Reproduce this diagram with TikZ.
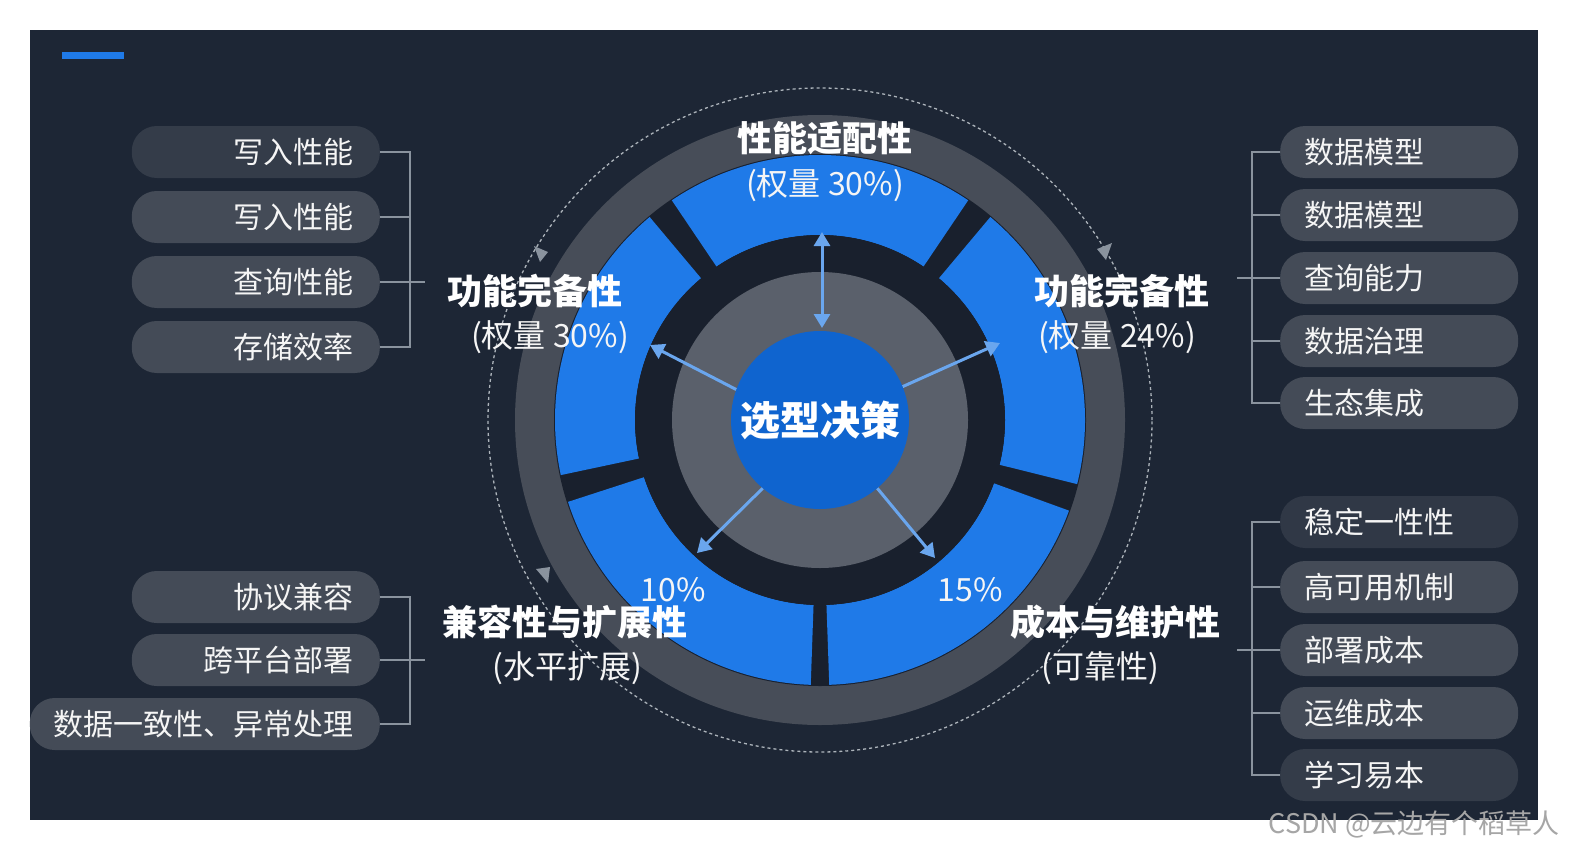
\documentclass[tikz,border=0pt]{standalone}
\usepackage{fontspec}
\setmainfont{Noto Sans CJK SC}
\usetikzlibrary{arrows.meta,calc}
\definecolor{bg}{HTML}{1D2635}
\definecolor{ringgray}{HTML}{474D58}
\definecolor{innergray}{HTML}{5A606B}
\definecolor{segblue}{HTML}{1F7AE8}
\definecolor{cblue}{HTML}{0F64CF}
\definecolor{arr}{HTML}{6AA6EE}
\definecolor{pill}{HTML}{444B57}
\definecolor{brk}{HTML}{8A939E}
\tikzset{
  pillL/.style={rounded corners=25pt,fill=pill,minimum height=52pt,text=white!92!gray,font=\fontsize{30}{31}\selectfont,anchor=east,text width=#1,align=right,inner sep=0pt},
  pillR/.style={rounded corners=25pt,fill=pill,minimum height=52pt,text=white!92!gray,font=\fontsize{30}{31}\selectfont,anchor=west,text width=238pt,align=left,inner xsep=0pt,inner ysep=0pt},
  brkline/.style={draw=brk,line width=1.6pt},
  ttl/.style={text=white,font=\bfseries\fontsize{35}{37}\selectfont,inner sep=0pt},
  sub/.style={text=white!92!gray,font=\fontsize{32}{34}\selectfont,inner sep=0pt},
  spoke/.style={draw=arr,line width=3pt,-{Triangle[length=14pt,width=16pt]}}
}
\newcommand{\seg}[2]{\fill[segblue] (820pt,-420pt) ++(#1:265pt) arc[start angle=#1,end angle=#2,radius=265pt] -- ($(820pt,-420pt)+(#2:185pt)$) arc[start angle=#2,end angle=#1,radius=185pt] -- cycle;}
\begin{document}
\begin{tikzpicture}[x=1pt,y=-1pt]
\useasboundingbox (0,0) rectangle (1574,854);
\fill[white] (0,0) rectangle (1574,854);
\fill[bg] (30,30) rectangle (1538,820);
\fill[segblue] (62,52) rectangle (124,59);
% rings
\coordinate (c) at (820,420);
\draw[brk!70,dashed,line width=1.3pt] (c) circle[radius=332pt];
\fill[ringgray] (c) circle[radius=305pt];
\fill[bg!85!black] (c) circle[radius=266pt];
\seg{56}{124}
\seg{-14}{50}
\seg{-88}{-20}
\seg{198}{268}
\seg{130}{192}
\fill[bg!85!black] (c) circle[radius=185pt];
\fill[innergray] (c) circle[radius=148pt];
\node[circle,fill=cblue,minimum size=178pt,inner sep=0pt,text=white,font=\bfseries\fontsize{40}{42}\selectfont] (core) at (c) {选型决策};
% dashed-circle arrowheads
\fill[brk] (540,262) -- ++(-6,-16) -- ++(14,6) -- cycle;
\fill[brk] (1106,260) -- ++(6,-17) -- ++(-15,6) -- cycle;
\fill[brk] (548,583) -- ++(-12,-14) -- ++(14,-2) -- cycle;
% spokes
\coordinate (tA) at (822,232);
\coordinate (lA) at (650,345);
\coordinate (rA) at (1000,343);
\coordinate (blA) at (697,553);
\coordinate (brA) at (935,558);
\draw[spoke,{Triangle[length=14pt,width=16pt]}-{Triangle[length=14pt,width=16pt]}] (822,328) -- (tA);
\draw[spoke] (core.160) -- (lA);
\draw[spoke] (core.22) -- (rA);
\draw[spoke] (core.-130) -- (blA);
\draw[spoke] (core.-50) -- (brA);
% titles
\node[ttl] (t1) at (825,138) {性能适配性};
\node[sub] at (825,185) {(权量 30\%)};
\node[ttl] (t2) at (535,291) {功能完备性};
\node[sub] at (550,337) {(权量 30\%)};
\node[ttl] (t3) at (1122,291) {功能完备性};
\node[sub] at (1117,337) {(权量 24\%)};
\node[sub] at (673,590) {10\%};
\node[sub] at (970,590) {15\%};
\node[ttl] (t4) at (565,622) {兼容性与扩展性};
\node[sub] at (567,668) {(水平扩展)};
\node[ttl] (t5) at (1115,622) {成本与维护性};
\node[sub] at (1100,668) {(可靠性)};
% left top pills
\node[pillL=248pt,fill=pill!60!bg] (a1) at (380,152) {写入性能\hspace*{26pt}};
\node[pillL=248pt] (a2) at (380,217) {写入性能\hspace*{26pt}};
\node[pillL=248pt] (a3) at (380,282) {查询性能\hspace*{26pt}};
\node[pillL=248pt] (a4) at (380,347) {存储效率\hspace*{26pt}};
\coordinate (ja) at (425,282);
\draw[brkline] (a1.east) -- (410,152) -- (410,347) -- (a4.east);
\draw[brkline] (a2.east) -- (410,217);
\draw[brkline] (a3.east) -- (ja);
% left bottom pills
\node[pillL=248pt] (b1) at (380,597) {协议兼容\hspace*{26pt}};
\node[pillL=248pt] (b2) at (380,660) {跨平台部署\hspace*{26pt}};
\node[pillL=350pt] (b3) at (380,724) {数据一致性、异常处理\hspace*{26pt}};
\coordinate (jb) at (425,660);
\draw[brkline] (b1.east) -- (410,597) -- (410,724) -- (b3.east);
\draw[brkline] (b2.east) -- (jb);
% right top pills
\node[pillR] (c1) at (1280,152) {\hspace*{24pt}数据模型};
\node[pillR] (c2) at (1280,215) {\hspace*{24pt}数据模型};
\node[pillR] (c3) at (1280,278) {\hspace*{24pt}查询能力};
\node[pillR] (c4) at (1280,341) {\hspace*{24pt}数据治理};
\node[pillR] (c5) at (1280,403) {\hspace*{24pt}生态集成};
\coordinate (jc) at (1237,278);
\draw[brkline] (c1.west) -- (1252,152) -- (1252,403) -- (c5.west);
\draw[brkline] (c2.west) -- (1252,215);
\draw[brkline] (c4.west) -- (1252,341);
\draw[brkline] (c3.west) -- (jc);
% right bottom pills
\node[pillR,fill=pill!50!bg] (d1) at (1280,522) {\hspace*{24pt}稳定一性性};
\node[pillR] (d2) at (1280,587) {\hspace*{24pt}高可用机制};
\node[pillR] (d3) at (1280,650) {\hspace*{24pt}部署成本};
\node[pillR] (d4) at (1280,713) {\hspace*{24pt}运维成本};
\node[pillR,fill=pill!60!bg] (d5) at (1280,775) {\hspace*{24pt}学习易本};
\coordinate (jd) at (1237,650);
\draw[brkline] (d1.west) -- (1252,522) -- (1252,775) -- (d5.west);
\draw[brkline] (d2.west) -- (1252,587);
\draw[brkline] (d4.west) -- (1252,713);
\draw[brkline] (d3.west) -- (jd);
\node[text=gray!70,font=\fontsize{27}{28}\selectfont,anchor=east,inner sep=0pt] (wm) at (1560,824) {CSDN @云边有个稻草人};
\end{tikzpicture}
\end{document}
